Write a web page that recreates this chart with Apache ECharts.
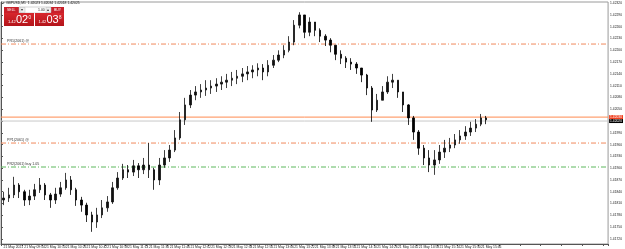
<!DOCTYPE html>
<html>
<head>
<meta charset="utf-8">
<script src="https://cdn.jsdelivr.net/npm/echarts@6/dist/echarts.min.js"></script>
<style>
  html, body { margin: 0; padding: 0; background: #fff; }
  #chart { width: 625px; height: 249px; }
</style>
</head>
<body>
<div id="chart"></div>
<script>
// GBPUSD 4-minute bars, 21 May 2021, 09:38 .. 15:50
const timeTicks = ['21 May 2021', '21 May 09:54', '21 May 10:10', '21 May 10:26', '21 May 10:42', '21 May 10:58',
  '21 May 11:14', '21 May 11:30', '21 May 11:46', '21 May 12:02', '21 May 12:18', '21 May 12:34', '21 May 12:50',
  '21 May 13:06', '21 May 13:22', '21 May 13:38', '21 May 13:54', '21 May 14:10', '21 May 14:26', '21 May 14:42',
  '21 May 14:58', '21 May 15:14', '21 May 15:30', '21 May 15:46'];

const firstOpen = 1.41819;
const closes = [
  1.41824, 1.41832, 1.41857, 1.41840, 1.41819, 1.41829, 1.41845, 1.41857, 1.41832, 1.41819,
  1.41834, 1.41850, 1.41870, 1.41845, 1.41819, 1.41806, 1.41781, 1.41763, 1.41781, 1.41799,
  1.41814, 1.41850, 1.41875, 1.41896, 1.41890, 1.41906, 1.41896, 1.41908, 1.41896, 1.41870,
  1.41908, 1.41926, 1.41946, 1.41977, 1.42023, 1.42061, 1.42086, 1.42094, 1.42099, 1.42104,
  1.42109, 1.42114, 1.42119, 1.42124, 1.42129, 1.42134, 1.42140, 1.42145, 1.42150, 1.42155,
  1.42145, 1.42162, 1.42175, 1.42188, 1.42200, 1.42221, 1.42264, 1.42290, 1.42246, 1.42272,
  1.42251, 1.42236, 1.42226, 1.42213, 1.42190, 1.42180, 1.42170, 1.42165, 1.42155, 1.42137,
  1.42104, 1.42048, 1.42073, 1.42094, 1.42119, 1.42124, 1.42094, 1.42061, 1.42028, 1.41992,
  1.41951, 1.41926, 1.41908, 1.41921, 1.41941, 1.41951, 1.41959, 1.41972, 1.41982, 1.41992,
  1.42002, 1.42012, 1.42028, 1.42023];
const highs = [
  1.41840, 1.41850, 1.41878, 1.41862, 1.41845, 1.41845, 1.41860, 1.41875, 1.41862, 1.41837,
  1.41850, 1.41865, 1.41888, 1.41880, 1.41850, 1.41827, 1.41812, 1.41789, 1.41799, 1.41819,
  1.41829, 1.41865, 1.41890, 1.41911, 1.41908, 1.41921, 1.41913, 1.41926, 1.41964, 1.41901,
  1.41926, 1.41946, 1.41959, 1.41997, 1.42043, 1.42079, 1.42099, 1.42109, 1.42114, 1.42124,
  1.42124, 1.42129, 1.42134, 1.42140, 1.42145, 1.42150, 1.42155, 1.42160, 1.42162, 1.42167,
  1.42165, 1.42175, 1.42188, 1.42200, 1.42213, 1.42236, 1.42277, 1.42297, 1.42290, 1.42284,
  1.42272, 1.42256, 1.42241, 1.42231, 1.42213, 1.42200, 1.42185, 1.42180, 1.42170, 1.42155,
  1.42140, 1.42109, 1.42089, 1.42109, 1.42134, 1.42140, 1.42124, 1.42094, 1.42063, 1.42033,
  1.41997, 1.41959, 1.41946, 1.41946, 1.41959, 1.41972, 1.41977, 1.41987, 1.41997, 1.42007,
  1.42018, 1.42025, 1.42038, 1.42033];
const lows = [
  1.41806, 1.41814, 1.41824, 1.41824, 1.41804, 1.41806, 1.41819, 1.41837, 1.41819, 1.41799,
  1.41809, 1.41827, 1.41845, 1.41832, 1.41804, 1.41789, 1.41763, 1.41738, 1.41748, 1.41773,
  1.41789, 1.41809, 1.41845, 1.41870, 1.41875, 1.41880, 1.41875, 1.41885, 1.41875, 1.41845,
  1.41857, 1.41901, 1.41916, 1.41941, 1.41972, 1.42010, 1.42053, 1.42073, 1.42079, 1.42084,
  1.42089, 1.42094, 1.42099, 1.42104, 1.42109, 1.42114, 1.42119, 1.42124, 1.42129, 1.42134,
  1.42124, 1.42134, 1.42155, 1.42170, 1.42180, 1.42195, 1.42213, 1.42256, 1.42231, 1.42236,
  1.42236, 1.42221, 1.42211, 1.42195, 1.42175, 1.42165, 1.42155, 1.42150, 1.42140, 1.42119,
  1.42086, 1.42018, 1.42043, 1.42073, 1.42089, 1.42104, 1.42079, 1.42043, 1.42010, 1.41972,
  1.41934, 1.41908, 1.41890, 1.41883, 1.41911, 1.41926, 1.41941, 1.41951, 1.41962, 1.41972,
  1.41982, 1.41992, 1.42007, 1.42012];

const priceTicks = [1.4232, 1.4229, 1.4226, 1.4223, 1.4220, 1.4217, 1.4214, 1.4211, 1.4208, 1.4205,
  1.4202, 1.4199, 1.4196, 1.4193, 1.4190, 1.4187, 1.4184, 1.4181, 1.4178, 1.4175, 1.4172];

// horizontal levels: name, price, colour
const levelNames = ['PR1(2061) @', 'PP1(2061) @', 'PR2(2061) buy 1.05'];
const levelPrices = [1.42216, 1.41964, 1.41903];
const levelColors = ['#f08a5d', '#f08a5d', '#5cb85c'];
const askPrice = 1.42030;
const bidPrice = 1.42020;

const SLOTS = 117; // empty space right of the last bar
const categories = [];
for (let i = 0; i < SLOTS; i++) {
  categories.push(i % 4 === 0 && i / 4 < timeTicks.length ? timeTicks[i / 4] : '');
}
const ohlc = closes.map((c, i) => [i === 0 ? firstOpen : closes[i - 1], c, lows[i], highs[i]]);

const chart = echarts.init(document.getElementById('chart'));

const dashDot = [5, 2, 1, 2];

// a full-width horizontal line on the hidden 0..1 x axis
function levelSeries(price, color, type, label, boxBg) {
  return {
    type: 'line',
    xAxisIndex: 1,
    silent: true,
    symbol: 'none',
    z: 1,
    lineStyle: { color: color, type: type, width: 1 },
    data: [
      { value: [0, price], symbol: label ? 'circle' : 'none', symbolSize: 0.01,
        label: label ? { show: true, position: 'right', offset: [1, -3], formatter: label,
          fontFamily: 'Liberation Sans', fontSize: 3.6, color: '#333' } : { show: false } },
      [1, price]
    ],
    endLabel: boxBg ? {
      show: true, distance: 1, formatter: price.toFixed(5),
      fontFamily: 'Liberation Sans', fontSize: 3.3, color: '#fff', backgroundColor: boxBg, padding: [0.5, 1]
    } : { show: false }
  };
}

const levelLines = levelPrices.map((p, i) => levelSeries(p, levelColors[i], dashDot, levelNames[i], null));
levelLines.push(levelSeries(bidPrice, '#c8c8c8', 'solid', null, '#000'));
levelLines.push(levelSeries(askPrice, '#ff8a50', 'solid', null, '#f04020'));

const option = {
  animation: false,
  backgroundColor: '#fff',
  grid: { left: 1, right: 15, top: 2, bottom: 5, show: true, borderColor: '#9a9a9a', borderWidth: 1 },
  xAxis: [{
    type: 'category',
    data: categories,
    boundaryGap: true,
    axisLine: { lineStyle: { color: '#555', width: 1 } },
    axisTick: { show: true, interval: 3, length: 2, lineStyle: { color: '#555' } },
    axisLabel: {
      interval: 3, align: 'left', margin: 1.5,
      fontFamily: 'Liberation Sans', fontSize: 3.4, color: '#222'
    },
    splitLine: { show: false }
  }, {
    type: 'value', min: 0, max: 1, show: false
  }],
  yAxis: {
    type: 'value',
    position: 'right',
    min: 1.41707,
    max: 1.42323,
    axisLine: { show: true, lineStyle: { color: '#555', width: 1 } },
    axisTick: { show: true, length: 2, customValues: priceTicks, lineStyle: { color: '#555' } },
    axisLabel: {
      customValues: priceTicks, margin: 2,
      fontFamily: 'Liberation Sans', fontSize: 3.3, color: '#222',
      formatter: (v) => v.toFixed(5)
    },
    splitLine: { show: false }
  },
  series: [
    {
      type: 'candlestick',
      data: ohlc,
      barWidth: 2,
      z: 3,
      itemStyle: { color: '#111', color0: '#000', borderColor: '#111', borderColor0: '#000', borderWidth: 0.8 }
    }
  ].concat(levelLines),
  graphic: [
    { type: 'text', left: 3, top: 1.5, z: 10,
      style: { text: '\u25BE GBPUSD,M1  1.42023 1.42034 1.42018 1.42025', fontFamily: 'Liberation Sans', fontSize: 3.4, fill: '#111' } },
    // one-click trading panel
    { type: 'rect', shape: { x: 4, y: 7, width: 15, height: 6 }, style: { fill: '#c8202a' }, z: 10 },
    { type: 'text', x: 7, y: 8.3, style: { text: 'SELL', fontFamily: 'Liberation Sans', fontSize: 3.5, fill: '#fff' }, z: 11 },
    { type: 'rect', shape: { x: 19, y: 7, width: 32, height: 6 }, style: { fill: '#fff', stroke: '#aaa', lineWidth: 0.5 }, z: 10 },
    { type: 'rect', shape: { x: 20, y: 7.5, width: 5, height: 5 }, style: { fill: '#eee', stroke: '#bbb', lineWidth: 0.5 }, z: 11 },
    { type: 'text', x: 21.3, y: 8.2, style: { text: '\u25BE', fontSize: 3.5, fill: '#333' }, z: 12 },
    { type: 'text', x: 38, y: 8.3, style: { text: '1.00', fontFamily: 'Liberation Sans', fontSize: 3.5, fill: '#222' }, z: 11 },
    { type: 'rect', shape: { x: 46, y: 7.5, width: 5, height: 5 }, style: { fill: '#eee', stroke: '#bbb', lineWidth: 0.5 }, z: 11 },
    { type: 'text', x: 47.3, y: 8.2, style: { text: '\u25B4', fontSize: 3.5, fill: '#333' }, z: 12 },
    { type: 'rect', shape: { x: 51, y: 7, width: 13, height: 6 }, style: { fill: '#c8202a' }, z: 10 },
    { type: 'text', x: 54, y: 8.3, style: { text: 'BUY', fontFamily: 'Liberation Sans', fontSize: 3.5, fill: '#fff' }, z: 11 },
    { type: 'rect', shape: { x: 4, y: 13, width: 30, height: 13 },
      style: { fill: new echarts.graphic.LinearGradient(0, 0, 0, 1, [{ offset: 0, color: '#d8262c' }, { offset: 1, color: '#b3141a' }]) }, z: 10 },
    { type: 'text', x: 8, y: 20, style: { text: '1.42', fontFamily: 'Liberation Sans', fontSize: 4, fill: '#fff' }, z: 11 },
    { type: 'text', x: 16, y: 14.2, style: { text: '02', fontFamily: 'Liberation Sans', fontSize: 11, fill: '#fff' }, z: 11 },
    { type: 'text', x: 28.5, y: 15, style: { text: '0', fontFamily: 'Liberation Sans', fontSize: 4.5, fill: '#fff' }, z: 11 },
    { type: 'rect', shape: { x: 35, y: 13, width: 29, height: 13 },
      style: { fill: new echarts.graphic.LinearGradient(0, 0, 0, 1, [{ offset: 0, color: '#d8262c' }, { offset: 1, color: '#b3141a' }]) }, z: 10 },
    { type: 'text', x: 38.5, y: 20, style: { text: '1.42', fontFamily: 'Liberation Sans', fontSize: 4, fill: '#fff' }, z: 11 },
    { type: 'text', x: 46.5, y: 14.2, style: { text: '03', fontFamily: 'Liberation Sans', fontSize: 11, fill: '#fff' }, z: 11 },
    { type: 'text', x: 59, y: 15, style: { text: '8', fontFamily: 'Liberation Sans', fontSize: 4.5, fill: '#fff' }, z: 11 }
  ]
};

chart.setOption(option);
</script>
</body>
</html>
